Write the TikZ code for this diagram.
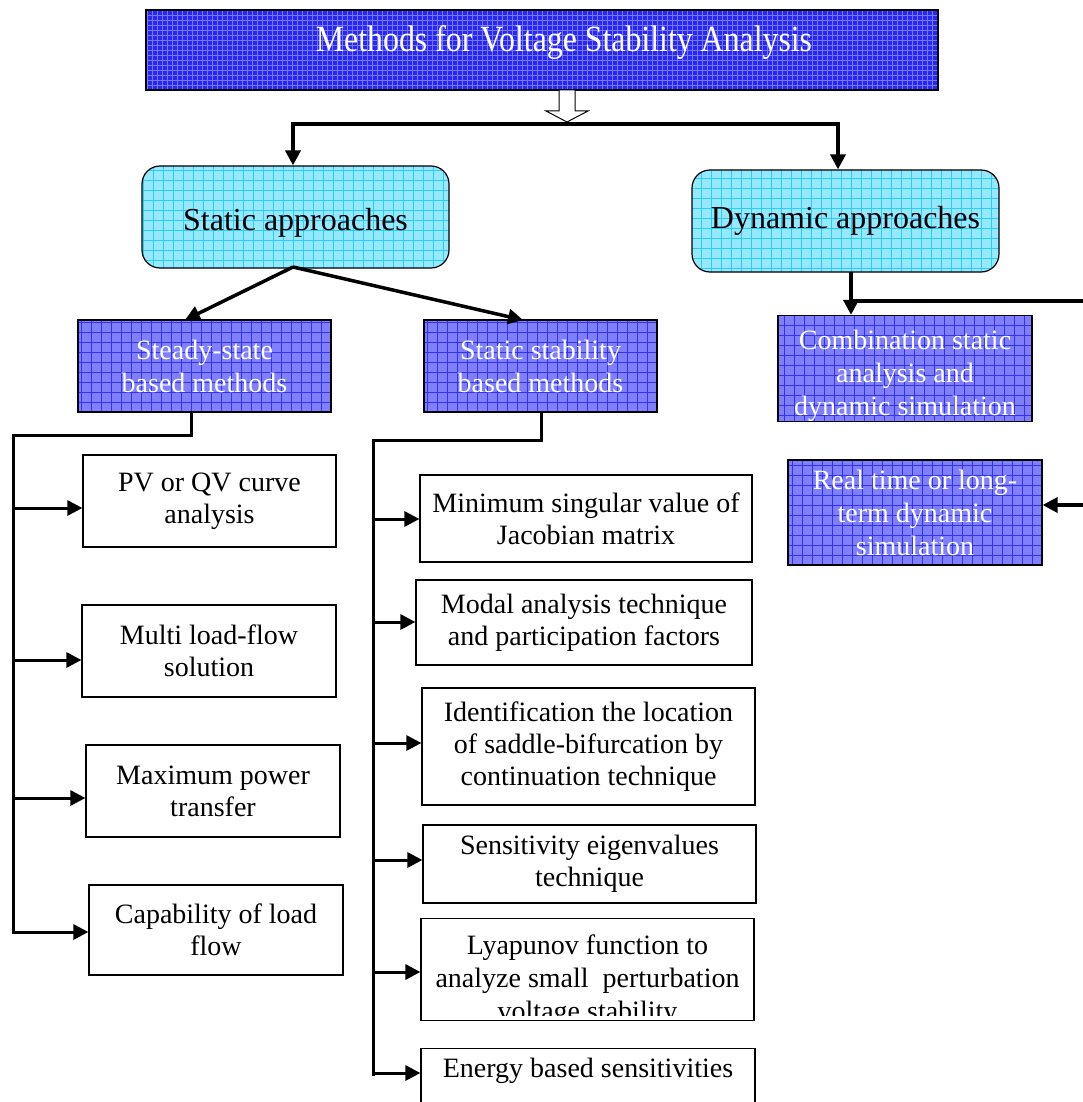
\documentclass[tikz,border=0pt]{standalone}
\usepackage{fontspec}
\setmainfont{Liberation Serif}
\usetikzlibrary{arrows.meta}
\definecolor{bluefill}{RGB}{128,128,255}
\definecolor{blueline}{RGB}{50,50,245}
\definecolor{cyanfill}{RGB}{150,232,255}
\definecolor{cyanline}{RGB}{40,205,250}
\definecolor{titlefill}{RGB}{40,40,245}
\definecolor{titleline}{RGB}{120,120,255}
\tikzset{
  gridbox/.style 2 args={draw=black, line width=1.2pt, fill=#1,
    path picture={\draw[#2, line width=0.6pt] ([xshift=-20pt,yshift=-20pt]path picture bounding box.south west) grid[step=10pt] ([xshift=20pt,yshift=20pt]path picture bounding box.north east);}},
  bluebox/.style={gridbox={bluefill}{blueline}, text=white, align=center,
    font=\fontsize{28}{33}\selectfont, inner sep=0pt},
  cyanbox/.style={gridbox={cyanfill}{cyanline}, rounded corners=18pt, text=black,
    align=center, font=\fontsize{32}{36}\selectfont, inner sep=0pt},
  whitebox/.style={draw=black, line width=1.2pt, fill=white, align=center,
    font=\fontsize{28}{32}\selectfont, inner sep=0pt},
  conn/.style={line width=3.5pt, line cap=rect},
  arr/.style={line width=3.5pt, -{Triangle[length=15pt,width=15pt]}},
}
\begin{document}
\begin{tikzpicture}[x=1pt,y=-1pt]
\useasboundingbox (0,0) rectangle (1082,1102);
\fill[white] (0,0) rectangle (1082,1102);
% title
\node[draw=black, line width=1.2pt, fill=titlefill, minimum width=792pt, minimum height=80pt, inner sep=0pt,
  path picture={\draw[titleline, line width=0.4pt] (path picture bounding box.south west) grid[step=5pt] (path picture bounding box.north east);}]
  (title) at (542,50) {};
\node[text=white, inner sep=0pt] (titletext) at (564,42) {\scalebox{0.86}[1]{\fontsize{37}{40}\selectfont Methods for Voltage Stability Analysis}};
% hollow arrow
\draw[line width=1pt, fill=white] (559,90) -- (575,90) -- (575,111) -- (588,111) -- (567,122) -- (546,111) -- (559,111) -- cycle;
% level 1
\node[cyanbox, minimum width=307pt, minimum height=102pt] (static) at (295.5,217) {\rule{0pt}{33pt}Static approaches};
\node[cyanbox, minimum width=307pt, minimum height=102pt] (dynamic) at (845.5,221) {Dynamic approaches};
% level 2
\node[bluebox, minimum width=253pt, minimum height=92pt] (steady) at (204.5,366) {Steady-state\\based methods};
\node[bluebox, minimum width=233pt, minimum height=92pt] (ssb) at (540.5,366) {Static stability\\based methods};
\node[bluebox, minimum width=254pt, minimum height=105pt] (comb) at (905,368.5) {\rule{0pt}{34pt}Combination static\\analysis and\\dynamic simulation};
\node[bluebox, minimum width=254pt, minimum height=105pt] (real) at (915,512.5) {Real time or long-\\term dynamic\\simulation};
% left column
\node[whitebox, minimum width=253pt, minimum height=92pt] (pv) at (209.5,501) {PV or QV curve\\analysis};
\node[whitebox, minimum width=254pt, minimum height=92pt] (multi) at (209,651) {Multi load-flow\\solution};
\node[whitebox, minimum width=254pt, minimum height=92pt] (maxp) at (213,791) {Maximum power\\transfer};
\node[whitebox, minimum width=254pt, minimum height=90pt] (capl) at (216,930) {Capability of load\\flow};
% right column
\node[whitebox, minimum width=332pt, minimum height=87pt] (minsv) at (586,518.5) {Minimum singular value of\\Jacobian matrix};
\node[whitebox, minimum width=336pt, minimum height=85pt] (modal) at (584,622.5) {Modal analysis technique\\and participation factors};
\node[whitebox, minimum width=333pt, minimum height=117pt] (ident) at (588.5,746.5) {Identification the location\\of saddle-bifurcation by\\continuation technique};
\node[whitebox, minimum width=333pt, minimum height=78pt] (sens) at (589.5,864) {Sensitivity eigenvalues\\technique};
\node[whitebox, minimum width=333pt, minimum height=102pt] (lyap) at (587.5,969.5) {};
\begin{scope}
\clip (422,919) rectangle (753,1015);
\node[align=center, font=\fontsize{28}{33}\selectfont, inner sep=0pt] (lyaptext) at (587.5,981) {Lyapunov function to\\analyze small~ perturbation\\voltage stability};
\end{scope}
\node[whitebox, minimum width=334pt, minimum height=80pt, anchor=north] (energy) at (588,1048) {Energy based sensitivities\\\strut};
% top connectors
\coordinate (barL) at (293,124);
\coordinate (barR) at (838,124);
\draw[conn] (barL) -- (barR);
\draw[arr, line cap=butt] (barL) -- (barL |- static.north);
\draw[arr, line cap=butt] (barR) -- (barR |- dynamic.north);
% static split
\coordinate (sb) at (293,267);
\draw[arr] (sb) -- (185,320);
\draw[arr] (sb) -- (523,320);
% dynamic
\coordinate (db) at (851,272);
\draw[arr] (db) -- (db |- comb.north);
\coordinate (dj) at (851,301);
\coordinate (dr) at (1090,301);
\coordinate (drb) at (1090,505);
\draw[conn] (dj) -- (dr) -- (drb);
\draw[arr] (drb) -- (drb -| real.east);
% steady trunk
\coordinate (st0) at (191,412);
\coordinate (st1) at (191,435);
\coordinate (st2) at (13,435);
\coordinate (st3) at (13,932);
\draw[conn, line width=3pt] (st0) -- (st1) -- (st2) -- (st3);
\foreach \yy/\nn in {508/pv, 660/multi, 798/maxp, 932/capl}
  \draw[arr, line width=3pt] (13,\yy) -- (\nn.west |- 13,\yy);
% static stability trunk
\coordinate (ss0) at (541,413);
\coordinate (ss1) at (541,440);
\coordinate (ss2) at (373,440);
\coordinate (ss3) at (373,1074);
\draw[conn, line width=3pt] (ss0) -- (ss1) -- (ss2) -- (ss3);
\foreach \yy/\nn in {519/minsv, 622/modal, 743/ident, 860/sens, 972/lyap, 1073/energy}
  \draw[arr, line width=3pt] (373,\yy) -- (\nn.west |- 373,\yy);
\end{tikzpicture}
\end{document}
